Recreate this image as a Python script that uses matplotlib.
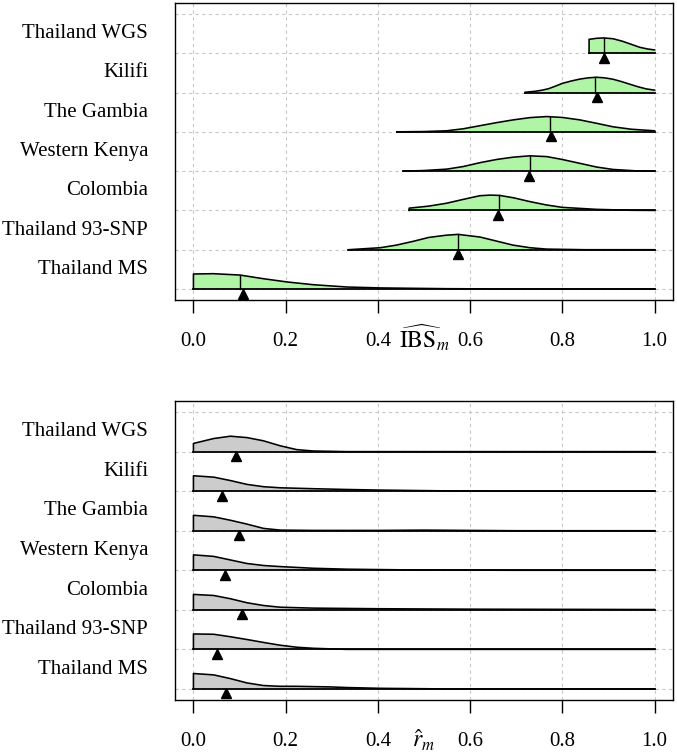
import matplotlib
matplotlib.use("Agg")
import matplotlib.pyplot as plt
from matplotlib.transforms import blended_transform_factory

plt.rcParams["font.family"] = ["Liberation Serif", "DejaVu Serif"]
plt.rcParams["mathtext.fontset"] = "stix"

# populations, bottom row first
populations = ["Thailand MS", "Thailand 93-SNP", "Colombia", "Western Kenya",
               "The Gambia", "Kilifi", "Thailand WGS"]

# ---- top panel: IBS_m densities (x, relative height) ----
ibs_x = [
    [0.0, 0.043, 0.101, 0.152, 0.203, 0.26, 0.333, 0.405, 0.549, 0.7, 1.0],
    [0.336, 0.405, 0.44, 0.477, 0.51, 0.549, 0.574, 0.621, 0.655, 0.693, 0.73, 0.766, 0.85, 1.0],
    [0.468, 0.51, 0.549, 0.585, 0.621, 0.643, 0.664, 0.695, 0.729, 0.765, 0.80, 0.874, 0.95, 1.0],
    [0.455, 0.5, 0.549, 0.585, 0.621, 0.657, 0.693, 0.729, 0.766, 0.80, 0.838, 0.874, 0.91, 0.96, 1.0],
    [0.441, 0.5, 0.549, 0.585, 0.621, 0.657, 0.693, 0.73, 0.766, 0.80, 0.838, 0.874, 0.91, 0.95, 1.0],
    [0.719, 0.74, 0.755, 0.77, 0.785, 0.80, 0.82, 0.838, 0.856, 0.874, 0.892, 0.91, 0.928, 0.946, 0.964, 0.982, 1.0],
    [0.858, 0.875, 0.89, 0.91, 0.931, 0.95, 0.968, 0.985, 1.0],
]
ibs_h = [
    [0.98, 1.0, 0.91, 0.67, 0.46, 0.28, 0.13, 0.07, 0.02, 0.0, 0.0],
    [0.0, 0.13, 0.3, 0.55, 0.8, 0.95, 1.0, 0.83, 0.58, 0.3, 0.13, 0.04, 0.0, 0.0],
    [0.15, 0.28, 0.47, 0.72, 0.96, 1.0, 0.98, 0.82, 0.58, 0.36, 0.2, 0.07, 0.01, 0.0],
    [0.0, 0.04, 0.13, 0.3, 0.55, 0.76, 0.91, 1.0, 0.95, 0.76, 0.51, 0.27, 0.11, 0.02, 0.0],
    [0.0, 0.02, 0.07, 0.2, 0.4, 0.6, 0.78, 0.93, 1.0, 0.94, 0.78, 0.56, 0.33, 0.17, 0.07],
    [0.02, 0.08, 0.15, 0.25, 0.42, 0.6, 0.76, 0.88, 0.96, 1.0, 0.96, 0.87, 0.72, 0.55, 0.38, 0.24, 0.16],
    [0.91, 0.98, 1.0, 0.95, 0.78, 0.58, 0.39, 0.28, 0.22],
]
ibs_median = [0.101, 0.574, 0.662, 0.729, 0.773, 0.871, 0.890]
ibs_mean = [0.107, 0.573, 0.661, 0.728, 0.775, 0.876, 0.891]

# ---- bottom panel: r_m densities ----
r_x = [
    [0.0, 0.044, 0.08, 0.116, 0.152, 0.188, 0.224, 0.26, 0.297, 0.333, 0.405, 0.549, 0.7, 1.0],
    [0.0, 0.044, 0.08, 0.116, 0.152, 0.188, 0.224, 0.26, 0.333, 1.0],
    [0.0, 0.044, 0.08, 0.116, 0.152, 0.188, 0.26, 0.405, 0.621, 1.0],
    [0.0, 0.044, 0.08, 0.116, 0.152, 0.188, 0.26, 0.333, 0.477, 0.7, 1.0],
    [0.0, 0.044, 0.08, 0.116, 0.152, 0.188, 0.26, 0.4, 0.5, 0.6, 0.7, 1.0],
    [0.0, 0.044, 0.08, 0.116, 0.152, 0.188, 0.26, 0.333, 0.405, 0.549, 0.7, 1.0],
    [0.0, 0.044, 0.08, 0.116, 0.152, 0.188, 0.224, 0.26, 0.333, 1.0],
]
r_h = [
    [1.0, 0.91, 0.67, 0.39, 0.22, 0.17, 0.17, 0.15, 0.13, 0.09, 0.04, 0.0, 0.0, 0.0],
    [1.0, 0.98, 0.82, 0.64, 0.45, 0.27, 0.14, 0.07, 0.0, 0.0],
    [1.0, 0.93, 0.72, 0.46, 0.28, 0.17, 0.11, 0.07, 0.04, 0.02],
    [1.0, 0.9, 0.67, 0.44, 0.31, 0.24, 0.13, 0.07, 0.02, 0.0, 0.0],
    [1.0, 0.9, 0.68, 0.43, 0.15, 0.04, 0.02, 0.02, 0.04, 0.02, 0.0, 0.0],
    [1.0, 0.91, 0.69, 0.44, 0.29, 0.22, 0.16, 0.11, 0.07, 0.02, 0.0, 0.0],
    [0.53, 0.85, 1.0, 0.91, 0.7, 0.38, 0.13, 0.04, 0.0, 0.0],
]
r_mean = [0.071, 0.052, 0.105, 0.069, 0.099, 0.061, 0.093]

xticks = [0.0, 0.2, 0.4, 0.6, 0.8, 1.0]
xticklabels = ["0.0", "0.2", "0.4", "0.6", "0.8", "1.0"]

SCALE = 0.39
GREEN = "#b0f5a6"
GREY = "#cccccc"

fig = plt.figure(figsize=(6.77, 7.53), dpi=100)
ax_top = fig.add_axes([175 / 677, 1 - 300 / 753, 498 / 677, 297 / 753])
ax_bot = fig.add_axes([175 / 677, 1 - 700 / 753, 498 / 677, 299 / 753])


def draw_panel(ax, xs, hs, fill, medians, means, xlabel):
    ax.set_xlim(-0.04, 1.04)
    ax.set_ylim(0.72, 8.28)
    # grid
    for gx in xticks:
        ax.axvline(gx, color="#c8c8c8", lw=0.8, ls=(0, (3, 3)), zorder=0)
    for gy in range(1, 9):
        ax.axhline(gy, color="#c8c8c8", lw=0.8, ls=(0, (3, 3)), zorder=0)
    for i in range(len(populations)):
        base = i + 1
        x = xs[i]
        y = [base + SCALE * h for h in hs[i]]
        px = [x[0]] + x + [x[-1]]
        py = [base] + y + [base]
        ax.fill(px, py, color=fill, lw=0, zorder=2)
        ax.plot([x[0], x[0]] + x, [base, y[0]] + y, color="black", lw=1.15,
                zorder=3, solid_joinstyle="round")
        ax.plot([x[0], 1.0], [base, base], color="black", lw=1.3, zorder=3)
        if medians is not None:
            m = medians[i]
            j = min(range(len(x)), key=lambda k: abs(x[k] - m))
            ax.plot([m, m], [base, y[j]], color="black", lw=1.0, zorder=3)
        ax.plot([means[i]], [base - 0.115], marker="^", color="black", ms=6.8,
                ls="none", zorder=4, clip_on=False)
        ax.text(-0.054, base + 0.5, populations[i],
                transform=blended_transform_factory(ax.transAxes, ax.transData),
                ha="right", va="center", fontsize=15)
    ax.set_xticks(xticks)
    ax.set_xticklabels(xticklabels, fontsize=15)
    ax.set_yticks([])
    ax.tick_params(axis="x", length=9.4, width=1, pad=13.5, direction="out")
    for s in ax.spines.values():
        s.set_linewidth(1.0)
    ax.annotate(xlabel, xy=(0.5, 0), xycoords=("data", "axes fraction"),
                xytext=(0, -34), textcoords="offset points",
                ha="center", va="baseline", fontsize=17)


draw_panel(ax_top, ibs_x, ibs_h, GREEN, ibs_median, ibs_mean, r"$\widehat{\mathrm{IBS}}_m$")
draw_panel(ax_bot, r_x, r_h, GREY, None, r_mean, r"$\hat{r}_m$")

fig.savefig("out.png", dpi=100)
